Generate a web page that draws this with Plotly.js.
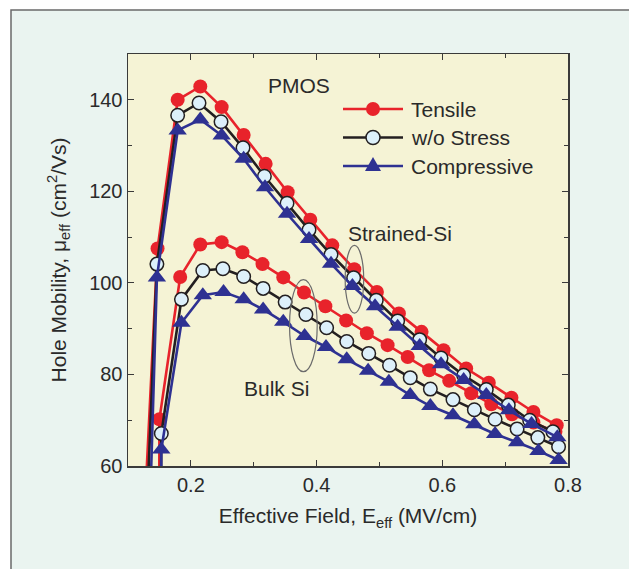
<!DOCTYPE html>
<html>
<head>
<meta charset="utf-8">
<script src="https://cdn.plot.ly/plotly-3.0.1.min.js"></script>
<style>html,body{margin:0;padding:0;background:#fff;}#chart{width:629px;height:569px;}</style>
</head>
<body>
<div id="chart"></div>
<script>
// ---- Data ----
// Strained-Si
const strTensileX = [0.120, 0.147, 0.179, 0.215, 0.249, 0.284, 0.319, 0.354, 0.390, 0.425, 0.460, 0.496, 0.531, 0.567, 0.602, 0.638, 0.674, 0.710, 0.745, 0.782];
const strTensileY = [32, 107.5, 140.0, 142.9, 138.4, 132.3, 126.0, 119.8, 113.8, 108.2, 103.0, 98.0, 93.3, 89.3, 85.3, 81.3, 78.2, 74.9, 71.8, 68.9];
const strNoneX = [0.120, 0.146, 0.179, 0.213, 0.248, 0.283, 0.317, 0.353, 0.388, 0.423, 0.459, 0.495, 0.529, 0.564, 0.598, 0.634, 0.670, 0.705, 0.739, 0.776];
const strNoneY = [16, 104.1, 136.6, 139.3, 135.2, 129.5, 123.3, 117.4, 111.6, 106.2, 101.1, 96.2, 91.7, 87.6, 83.6, 79.8, 76.7, 73.3, 70.0, 67.5];
const strCompX = [0.125, 0.146, 0.179, 0.215, 0.249, 0.284, 0.318, 0.353, 0.388, 0.423, 0.457, 0.493, 0.529, 0.564, 0.598, 0.634, 0.670, 0.706, 0.742, 0.783];
const strCompY = [5, 101.2, 133.3, 135.7, 132.2, 127.1, 120.9, 115.1, 109.6, 104.2, 99.3, 94.9, 90.4, 86.2, 82.2, 78.8, 75.5, 72.2, 69.2, 66.3];
// Bulk Si
const bulkTensileX = [0.149, 0.150, 0.183, 0.215, 0.249, 0.282, 0.314, 0.347, 0.380, 0.414, 0.447, 0.480, 0.513, 0.545, 0.579, 0.611, 0.646, 0.678, 0.711, 0.745, 0.780];
const bulkTensileY = [20, 70.2, 101.3, 108.4, 108.9, 106.7, 104.1, 101.2, 97.9, 94.9, 91.8, 89.0, 86.4, 83.8, 80.9, 78.6, 75.9, 73.5, 71.3, 69.5, 67.5];
const bulkNoneX = [0.151, 0.153, 0.185, 0.219, 0.251, 0.284, 0.315, 0.350, 0.383, 0.416, 0.448, 0.483, 0.516, 0.549, 0.581, 0.617, 0.651, 0.684, 0.719, 0.752, 0.785];
const bulkNoneY = [20, 67.1, 96.4, 102.7, 103.1, 101.4, 98.8, 95.8, 93.1, 90.2, 87.2, 84.6, 82.0, 79.3, 76.8, 74.5, 72.3, 70.2, 68.1, 66.2, 64.2];
const bulkCompX = [0.152, 0.153, 0.185, 0.219, 0.252, 0.284, 0.315, 0.347, 0.381, 0.415, 0.448, 0.482, 0.515, 0.549, 0.581, 0.617, 0.651, 0.684, 0.719, 0.753, 0.785];
const bulkCompY = [20, 63.6, 91.3, 97.3, 98.0, 96.4, 94.2, 91.5, 88.4, 86.0, 83.3, 80.8, 78.4, 75.5, 73.1, 71.1, 69.1, 67.0, 65.2, 63.3, 61.3];

const seriesNames = ['Tensile', 'w/o Stress', 'Compressive'];
const xTickVals = [0.2, 0.4, 0.6, 0.8];
const xTickText = ['0.2', '0.4', '0.6', '0.8'];
const yTickVals = [60, 80, 100, 120, 140];
const yTickText = ['60', '80', '100', '120', '140'];

// ---- Styles ----
const RED = '#E8232B', BLACK = '#231F20', BLUE = '#2E3192', LIGHT = '#DDF0FA';
const FONT = '"Liberation Sans", Arial, Helvetica, sans-serif';
const TXT = '#2a2a2a';
const FS = 21;
const styles = [
  {line: {color: RED, width: 2.6}, marker: {symbol: 'circle', size: 14, color: RED, line: {width: 0}}},
  {line: {color: BLACK, width: 2.6}, marker: {symbol: 'circle', size: 13.5, color: LIGHT, line: {color: BLACK, width: 1.5}}},
  {line: {color: BLUE, width: 2.6}, marker: {symbol: 'triangle-up', size: 16, color: BLUE, line: {width: 0}}}
];

function tr(x, y, i) {
  return {x: x, y: y, type: 'scatter', mode: 'lines+markers', name: seriesNames[i],
          line: styles[i].line, marker: styles[i].marker, showlegend: false, cliponaxis: true};
}
const data = [
  tr(bulkTensileX, bulkTensileY, 0), tr(bulkNoneX, bulkNoneY, 1), tr(bulkCompX, bulkCompY, 2),
  tr(strTensileX, strTensileY, 0), tr(strNoneX, strNoneY, 1), tr(strCompX, strCompY, 2)
];

// ---- Layout helpers (pixel -> paper) ----
const W = 629, H = 569, ML = 128, MR = 61, MT = 54, MB = 103;
const PW = W - ML - MR, PH = H - MT - MB;
const px = v => (v - ML) / PW;
const py = v => (H - MB - v) / PH;

const legendRows = [109, 137.5, 166];
const shapes = [
  // outer figure frame
  {type: 'rect', xref: 'paper', yref: 'paper', x0: px(11), x1: px(660), y0: py(10), y1: py(600),
   fillcolor: '#EAF4F0', line: {color: '#6a6a6a', width: 1.5}, layer: 'below'},
  // plot background
  {type: 'rect', xref: 'paper', yref: 'paper', x0: 0, x1: 1, y0: 0, y1: 1,
   fillcolor: '#F5F3D5', line: {width: 0}, layer: 'below'},
  // ellipses
  {type: 'circle', xref: 'x', yref: 'y', x0: 0.4455, x1: 0.4750, y0: 93.4, y1: 108.2,
   line: {color: '#6B6B6B', width: 1.2}},
  {type: 'circle', xref: 'x', yref: 'y', x0: 0.357, x1: 0.401, y0: 80.6, y1: 100.7,
   line: {color: '#6B6B6B', width: 1.2}}
];
const annotations = [
  {text: 'PMOS', x: 0.372, y: 143.1, xref: 'x', yref: 'y', showarrow: false, font: {size: FS, color: TXT, family: FONT}},
  {text: 'Strained-Si', x: 0.533, y: 110.8, xref: 'x', yref: 'y', showarrow: false, font: {size: FS, color: TXT, family: FONT}},
  {text: 'Bulk Si', x: 0.336, y: 77.0, xref: 'x', yref: 'y', showarrow: false, font: {size: FS, color: TXT, family: FONT}}
];
// custom legend
legendRows.forEach((r, i) => {
  const yy = py(r);
  shapes.push({type: 'line', xref: 'paper', yref: 'paper', x0: px(343), x1: px(403), y0: yy, y1: yy,
               line: {color: styles[i].line.color, width: 2.6}});
  const mx = px(373);
  if (i < 2) {
    shapes.push({type: 'circle', xref: 'paper', yref: 'paper', xsizemode: 'pixel', ysizemode: 'pixel',
                 xanchor: mx, yanchor: yy, x0: -7, x1: 7, y0: -7, y1: 7,
                 fillcolor: styles[i].marker.color,
                 line: i === 1 ? {color: BLACK, width: 1.5} : {width: 0}});
  } else {
    shapes.push({type: 'path', xref: 'paper', yref: 'paper', xsizemode: 'pixel', ysizemode: 'pixel',
                 xanchor: mx, yanchor: yy, path: 'M-8,-5 L8,-5 L0,9 Z',
                 fillcolor: BLUE, line: {width: 0}});
  }
  annotations.push({text: seriesNames[i], xref: 'paper', yref: 'paper', x: px(409), y: yy,
                    xanchor: 'left', yanchor: 'middle', showarrow: false,
                    font: {size: FS, color: TXT, family: FONT}});
});

const axisCommon = {
  showline: true, linecolor: '#3a3a3a', linewidth: 1.5, mirror: 'ticks',
  ticks: 'inside', ticklen: 6, tickwidth: 1.2, tickcolor: '#3a3a3a',
  showgrid: false, zeroline: false, tickfont: {size: 20, color: TXT, family: FONT}
};
const layout = {
  width: W, height: H,
  margin: {l: ML, r: MR, t: MT, b: MB},
  paper_bgcolor: '#ffffff', plot_bgcolor: 'rgba(0,0,0,0)',
  font: {family: FONT, color: TXT},
  showlegend: false,
  xaxis: Object.assign({}, axisCommon, {
    range: [0.1, 0.8], tickvals: xTickVals, ticktext: xTickText,
    minor: {dtick: 0.1, tick0: 0, ticks: 'inside', ticklen: 4, tickcolor: '#3a3a3a'},
    title: {text: 'Effective Field, E<sub>eff</sub> (MV/cm)', font: {size: FS, color: TXT, family: FONT}, standoff: 14}
  }),
  yaxis: Object.assign({}, axisCommon, {
    range: [60, 150], tickvals: yTickVals, ticktext: yTickText,
    minor: {dtick: 10, tick0: 0, ticks: 'inside', ticklen: 4, tickcolor: '#3a3a3a'},
    title: {text: 'Hole Mobility, μ<sub>eff</sub> (cm<sup>2</sup>/Vs)', font: {size: FS, color: TXT, family: FONT}, standoff: 17}
  }),
  shapes: shapes,
  annotations: annotations
};
Plotly.newPlot('chart', data, layout, {displayModeBar: false, staticPlot: true});
</script>
</body>
</html>
